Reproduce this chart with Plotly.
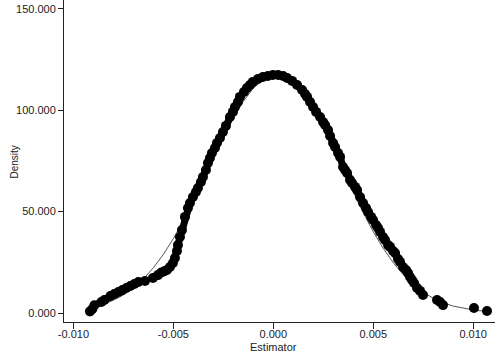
import plotly.graph_objects as go

# observed estimates (x) with their kernel density height (y)
est_x = [-0.00917, -0.00905, -0.00895, -0.00860, -0.00845, -0.00815, -0.00795, -0.00775,
         -0.00755, -0.00735, -0.00715, -0.00695, -0.00675, -0.00642, -0.00602, -0.00577,
         -0.00560, -0.00545, -0.00532, -0.00517, -0.00502, -0.00492, -0.00482, -0.00477,
         -0.00467, -0.00457, -0.00442, -0.00427, -0.00417, -0.00402, -0.00387, -0.00377,
         -0.00362, -0.00352, -0.00337, -0.00327, -0.00317, -0.00307, -0.00292, -0.00282,
         -0.00267, -0.00252, -0.00237, -0.00217, -0.00202, -0.00192, -0.00177, -0.00167,
         -0.00147, -0.00132, -0.00117, -0.00102, -0.00077, -0.00052, -0.00027, -0.00002,
         0.00024, 0.00049, 0.00069, 0.00094, 0.00119, 0.00144, 0.00159, 0.00169,
         0.00184, 0.00199, 0.00214, 0.00234, 0.00249, 0.00259, 0.00274, 0.00284,
         0.00299, 0.00309, 0.00324, 0.00334, 0.00349, 0.00359, 0.00369, 0.00384,
         0.00394, 0.00409, 0.00419, 0.00434, 0.00449, 0.00464, 0.00474, 0.00489,
         0.00499, 0.00514, 0.00524, 0.00534, 0.00549, 0.00559, 0.00574, 0.00584,
         0.00599, 0.00609, 0.00624, 0.00634, 0.00649, 0.00664, 0.00674, 0.00684,
         0.00694, 0.00704, 0.00719, 0.00734, 0.00749, 0.00819, 0.00834, 0.00849,
         0.01004, 0.01069]
kde_y = [0.8, 2.0, 3.8, 5.4, 6.4, 8.4, 9.4, 10.4,
         11.3, 12.3, 13.3, 14.3, 15.3, 15.8, 17.3, 18.7,
         20.0, 20.6, 21.2, 22.7, 24.7, 27.1, 30.6, 33.5,
         37.5, 40.9, 47.4, 51.8, 54.3, 57.2, 59.7, 61.7,
         64.6, 67.1, 70.5, 74.0, 76.5, 78.9, 81.4, 83.9,
         86.3, 89.3, 92.3, 96.7, 99.2, 101.6, 104.1, 106.6,
         109.0, 111.0, 112.5, 114.0, 115.4, 116.4, 116.9, 117.4,
         117.4, 116.9, 115.9, 114.5, 112.5, 110.0, 108.0, 106.6,
         104.1, 101.6, 99.2, 96.7, 94.2, 92.7, 90.3, 87.3,
         83.9, 81.9, 78.9, 77.0, 72.0, 70.5, 69.1, 65.6,
         64.1, 62.2, 60.7, 57.2, 54.3, 51.8, 49.8, 47.4,
         45.9, 43.4, 41.9, 40.0, 37.5, 36.0, 33.5, 32.6,
         30.6, 29.6, 26.6, 25.2, 22.7, 21.2, 19.7, 17.8,
         16.3, 14.8, 12.3, 10.9, 8.9, 6.4, 5.4, 3.9,
         2.5, 1.0]

# normal density reference curve
norm_x = [-0.0092, -0.0090, -0.0085, -0.0080, -0.0075, -0.0070, -0.0065, -0.0060, -0.0055,
          -0.0050, -0.0045, -0.0040, -0.0035, -0.0030, -0.0025, -0.0020, -0.0015, -0.0010,
          -0.0005, 0.0000, 0.0005, 0.0010, 0.0015, 0.0020, 0.0025, 0.0030, 0.0035, 0.0040,
          0.0045, 0.0050, 0.0055, 0.0060, 0.0065, 0.0070, 0.0075, 0.0080, 0.0085, 0.0090,
          0.0095, 0.0100, 0.0105, 0.0108]
norm_y = [2.5, 2.9, 4.3, 6.3, 8.9, 12.4, 16.8, 22.3, 28.9,
          36.7, 45.6, 55.3, 65.7, 76.3, 86.6, 96.1, 104.4, 110.9,
          115.1, 117.0, 116.2, 112.8, 107.2, 99.6, 90.5, 80.4, 69.9, 59.4,
          49.4, 40.1, 31.9, 24.8, 18.9, 14.0, 10.2, 7.3, 5.1, 3.4,
          2.3, 1.5, 0.95, 0.7]

x_ticks = [-0.010, -0.005, 0.000, 0.005, 0.010]
x_labels = ['-0.010', '-0.005', '0.000', '0.005', '0.010']
y_ticks = [0, 50, 100, 150]
y_labels = ['0.000', '50.000', '100.000', '150.000']

fig = go.Figure()
fig.add_trace(go.Scatter(x=norm_x, y=norm_y, mode='lines',
                         line=dict(color='#555555', width=1), showlegend=False))
# dense runs of points merge into a solid band
for a, b in [(0, 14), (14, 109)]:
    fig.add_trace(go.Scatter(x=est_x[a:b], y=kde_y[a:b], mode='lines',
                             line=dict(color='black', width=7), showlegend=False))
fig.add_trace(go.Scatter(x=est_x, y=kde_y, mode='markers',
                         marker=dict(color='black', size=10, line=dict(width=0)),
                         showlegend=False))

fnt = dict(family='Liberation Sans, Arial, sans-serif', size=11, color='#222222')
fig.update_layout(
    width=498, height=353,
    margin=dict(l=64, r=3, t=0, b=31),
    paper_bgcolor='white', plot_bgcolor='white',
    font=fnt,
    xaxis=dict(range=[-0.01047, 0.01109], tickvals=x_ticks, ticktext=x_labels, automargin=False,
               showgrid=False, zeroline=False, showline=True, linecolor='#222222', linewidth=1,
               ticks='outside', ticklen=6, tickcolor='#222222', ticklabelstandoff=-4),
    yaxis=dict(range=[-4.44, 154.4], tickvals=y_ticks, ticktext=y_labels, automargin=False,
               showgrid=False, zeroline=False, showline=True, linecolor='#222222', linewidth=1,
               ticks='outside', ticklen=5, tickcolor='#222222'),
    annotations=[
        dict(text='Estimator', xref='paper', yref='paper', yanchor='middle',
             x=(273 - 64) / 431, y=-(346.5 - 322) / 322, showarrow=False, font=fnt),
        dict(text='Density', xref='paper', yref='paper', textangle=-90,
             x=-(64 - 7) / 431, y=(322 - 162) / 322, showarrow=False,
             font=dict(family=fnt['family'], size=10, color='#222222')),
    ],
)

fig.write_html("out.html", config={'displayModeBar': False},
               post_script="document.body.style.margin='0';")
